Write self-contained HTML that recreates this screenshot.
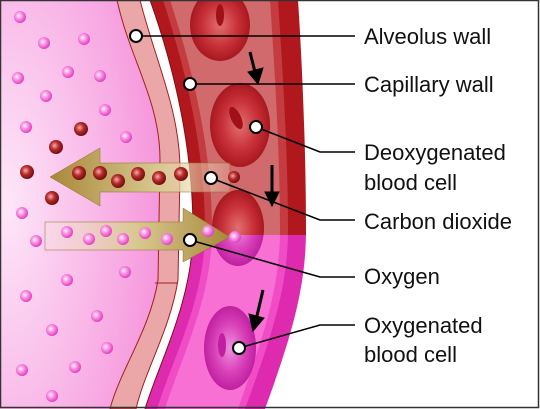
<!DOCTYPE html>
<html><head><meta charset="utf-8"><style>
html,body{margin:0;padding:0;background:#fff}
svg{display:block}
text{font-family:"Liberation Sans",Arial,sans-serif;font-size:22px;fill:#111}
</style></head><body>
<svg width="540" height="409" viewBox="0 0 540 409">
<defs>
<radialGradient id="alv" cx="0.05" cy="0.5" r="1.1">
<stop offset="0" stop-color="#fde6f8"/><stop offset="1" stop-color="#f58ad8"/></radialGradient>
<linearGradient id="gold1" x1="0" x2="1"><stop offset="0" stop-color="#a8883a"/><stop offset="0.6" stop-color="#d8c890"/><stop offset="1" stop-color="#f4ecd0" stop-opacity="0.2"/></linearGradient>
<linearGradient id="gold2" x1="0" x2="1"><stop offset="0" stop-color="#f4ecd0" stop-opacity="0.2"/><stop offset="0.5" stop-color="#d8c890"/><stop offset="1" stop-color="#a8883a"/></linearGradient>
<radialGradient id="pd" cx="0.4" cy="0.4" r="0.6"><stop offset="0" stop-color="#fff"/><stop offset="0.4" stop-color="#ff9ae6"/><stop offset="1" stop-color="#e040c0"/></radialGradient>
<radialGradient id="rd" cx="0.4" cy="0.4" r="0.6"><stop offset="0" stop-color="#f0b0b0"/><stop offset="0.5" stop-color="#b82828"/><stop offset="1" stop-color="#701010"/></radialGradient>
<radialGradient id="rc" cx="0.5" cy="0.5" r="0.5"><stop offset="0" stop-color="#e07070"/><stop offset="0.6" stop-color="#c83038"/><stop offset="1" stop-color="#a81820"/></radialGradient>
<radialGradient id="pc" cx="0.5" cy="0.5" r="0.5"><stop offset="0" stop-color="#f090e0"/><stop offset="0.6" stop-color="#d840b8"/><stop offset="1" stop-color="#c020a0"/></radialGradient>
<clipPath id="top"><rect x="0" y="0" width="540" height="235"/></clipPath>
<clipPath id="bot"><rect x="0" y="235" width="540" height="174"/></clipPath>
<clipPath id="cap"><path d="M150,0 C175,70 193,150 193,230 C193,300 160,360 145,409 L265,409 C290,340 306,290 306,230 C306,150 302,60 298,0 Z"/></clipPath>
</defs>
<rect width="540" height="409" fill="#fff"/>
<path d="M0,0 L117,0 C130,60 160,100 160,160 L158,280 C150,330 120,370 110,409 L0,409 Z" fill="url(#alv)"/>
<path d="M117,0 L140,0 C155,60 180,110 180,170 L178,280 C170,330 145,370 136,409 L110,409 C120,370 150,330 158,280 L160,160 C160,100 130,60 117,0 Z" fill="#eba7a7" stroke="#a02020" stroke-width="1"/>
<line x1="155" y1="283" x2="178" y2="283" stroke="#a02020"/>
<g clip-path="url(#cap)">
<g clip-path="url(#top)">
<rect x="140" y="0" width="200" height="409" fill="#b0181e"/>
<path d="M163,0 C186,70 205,150 205,230 C205,300 172,360 157,409 L245,409 C270,340 288,290 288,230 C288,150 282,60 278,0 Z" fill="#c43c40"/>
<path d="M170,0 C193,70 212,150 212,230 C212,300 180,360 165,409 L238,409 C262,340 280,290 280,230 C280,150 274,60 270,0 Z" fill="#d06a6c"/>
</g>
<g clip-path="url(#bot)">
<rect x="140" y="0" width="200" height="409" fill="#dd2aae"/>
<path d="M163,0 C186,70 205,150 205,230 C205,300 172,360 157,409 L245,409 C270,340 288,290 288,230 C288,150 282,60 278,0 Z" fill="#ef4cc6"/>
<path d="M170,0 C193,70 212,150 212,230 C212,300 180,360 165,409 L238,409 C262,340 280,290 280,230 C280,150 274,60 270,0 Z" fill="#f870d4"/>
</g>
<g clip-path="url(#top)">
<ellipse cx="220" cy="25" rx="30" ry="36" fill="url(#rc)"/>
<ellipse cx="240" cy="125" rx="30" ry="42" fill="url(#rc)"/>
<ellipse cx="238" cy="228" rx="26" ry="38" fill="url(#rc)"/>
<ellipse cx="220" cy="15" rx="4" ry="11" fill="#a01018"/>
<ellipse cx="236" cy="118" rx="5" ry="12" fill="#a01018" transform="rotate(-25 236 118)"/>
</g>
<g clip-path="url(#bot)"><ellipse cx="238" cy="228" rx="26" ry="38" fill="url(#pc)"/></g>
<ellipse cx="230" cy="348" rx="26" ry="42" fill="url(#pc)"/>
<ellipse cx="222" cy="345" rx="4" ry="12" fill="#c020a0"/>
</g>
<path d="M150,0 C175,70 193,150 193,230 C193,300 160,360 145,409" fill="none" stroke="#8a0a10" stroke-width="1"/>
<g><path d="M50,177 L100,148 L100,163 L230,163 L230,192 L100,192 L100,206 Z" fill="url(#gold1)" stroke="#8a7020" stroke-width="0.5"/></g>
<g><path d="M45,222 L183,222 L183,208 L230,237 L183,262 L183,250 L45,250 Z" fill="url(#gold2)" stroke="#8a7020" stroke-width="0.5"/></g>
<g fill="url(#pd)">
<circle cx="20" cy="17" r="6"/><circle cx="44" cy="43" r="6"/><circle cx="84" cy="39" r="6"/><circle cx="18" cy="78" r="6"/><circle cx="68" cy="72" r="6"/><circle cx="100" cy="76" r="6"/><circle cx="46" cy="96" r="6"/><circle cx="105" cy="110" r="6"/><circle cx="26" cy="127" r="6"/><circle cx="126" cy="137" r="6"/><circle cx="22" cy="213" r="6"/><circle cx="36" cy="241" r="6"/><circle cx="67" cy="232" r="6"/><circle cx="89" cy="239" r="6"/><circle cx="106" cy="231" r="6"/><circle cx="123" cy="239" r="6"/><circle cx="145" cy="233" r="6"/><circle cx="167" cy="239" r="6"/><circle cx="208" cy="231" r="6"/><circle cx="235" cy="237" r="6"/><circle cx="125" cy="272" r="6"/><circle cx="67" cy="280" r="6"/><circle cx="26" cy="296" r="6"/><circle cx="97" cy="316" r="6"/><circle cx="52" cy="330" r="6"/><circle cx="107" cy="348" r="6"/><circle cx="75" cy="367" r="6"/><circle cx="22" cy="370" r="6"/><circle cx="52" cy="396" r="6"/>
</g>
<g fill="url(#rd)">
<circle cx="81" cy="129" r="7"/><circle cx="56" cy="147" r="7"/><circle cx="27" cy="172" r="7"/><circle cx="52" cy="198" r="7"/><circle cx="79" cy="173" r="7"/><circle cx="100" cy="173" r="7"/><circle cx="118" cy="181" r="7"/><circle cx="138" cy="174" r="7"/><circle cx="159" cy="178" r="7"/><circle cx="181" cy="174" r="7"/><circle cx="234" cy="177" r="6"/>
</g>
<g stroke="#000" stroke-width="3" fill="#000">
<line x1="250" y1="52" x2="256" y2="76"/><path d="M248,72 L258,84 L263,68 Z" stroke-width="1"/>
<line x1="272" y1="165" x2="272" y2="196"/><path d="M265,192 L272,206 L279,192 Z" stroke-width="1"/>
<line x1="263" y1="290" x2="256" y2="320"/><path d="M249,314 L253,331 L264,318 Z" stroke-width="1"/>
</g>
<g stroke="#000" stroke-width="1.5" fill="none">
<path d="M136,36 L355,36"/><path d="M190,84 L355,84"/>
<path d="M256,127 L320,152 L355,152"/><path d="M211,178 L320,220 L355,220"/>
<path d="M190,240 L320,277 L355,277"/><path d="M239,348 L320,325 L355,325"/>
</g>
<g fill="#fff" stroke="#000" stroke-width="2">
<circle cx="136" cy="36" r="6"/><circle cx="190" cy="84" r="6"/><circle cx="256" cy="127" r="6"/><circle cx="211" cy="178" r="6"/><circle cx="190" cy="240" r="6"/><circle cx="239" cy="348" r="6"/>
</g>
<text x="364" y="44">Alveolus wall</text>
<text x="364" y="92">Capillary wall</text>
<text x="364" y="160">Deoxygenated</text>
<text x="364" y="190">blood cell</text>
<text x="364" y="229">Carbon dioxide</text>
<text x="364" y="284">Oxygen</text>
<text x="364" y="333">Oxygenated</text>
<text x="364" y="362">blood cell</text>
<rect x="0.5" y="0.5" width="538" height="407" fill="none" stroke="#333" stroke-width="1.5"/>
</svg>
</body></html>
